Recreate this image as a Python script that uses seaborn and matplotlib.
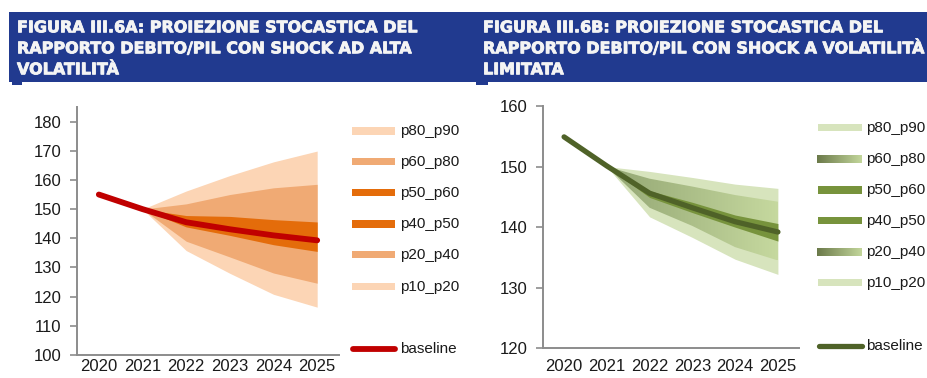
import numpy as np
import pandas as pd
import matplotlib
matplotlib.use("Agg")
import matplotlib.pyplot as plt
import matplotlib.patheffects as pe
import seaborn as sns
from matplotlib.colors import to_rgb
from matplotlib.patches import Rectangle

# ---- data -------------------------------------------------------------
years = ["2020", "2021", "2022", "2023", "2024", "2025"]
band_years = ["2021", "2022", "2023", "2024", "2025"]

# high-volatility shock
baseline_a = [155.0, 150.0, 145.5, 143.1, 141.0, 139.3]
p90_a = [150.0, 156.2, 161.5, 166.2, 169.9]
p80_a = [150.0, 151.8, 155.0, 157.3, 158.5]
p60_a = [150.0, 147.8, 147.5, 146.4, 145.6]
p50_a = [150.0, 145.5, 143.1, 141.0, 139.3]
p40_a = [150.0, 143.9, 141.0, 137.8, 135.5]
p20_a = [150.0, 139.0, 133.6, 128.1, 124.6]
p10_a = [150.0, 135.8, 128.0, 120.8, 116.4]

# limited-volatility shock
baseline_b = [154.9, 150.1, 145.6, 143.2, 140.9, 139.2]
p90_b = [150.0, 149.2, 148.2, 147.1, 146.4]
p80_b = [150.0, 148.0, 146.7, 145.3, 144.2]
p60_b = [150.0, 146.0, 144.1, 142.0, 140.6]
p50_b = [150.0, 145.6, 143.2, 140.9, 139.2]
p40_b = [150.0, 144.9, 142.4, 140.0, 137.7]
p20_b = [150.0, 143.2, 140.2, 136.7, 134.5]
p10_b = [150.0, 141.7, 138.3, 134.7, 132.2]

labels = ["p80_p90", "p60_p80", "p50_p60", "p40_p50", "p20_p40", "p10_p20"]

# ---- style ------------------------------------------------------------
sns.set_theme(style="white")
plt.rcParams["font.family"] = ["Liberation Sans", "DejaVu Sans"]

W, H = 928, 378
fig = plt.figure(figsize=(W / 100, H / 100), dpi=100)

BLUE = "#213A8F"
SPINE = "#8C8C8C"
TXT = "#1A1A1A"

ORANGE_LIGHT = "#FCD5B5"
ORANGE_MID = "#F0AA74"
ORANGE_DARK = "#E46C0A"
RED = "#C00000"

GREEN_LIGHT = "#D7E4BD"
GREEN_GRAD = ("#93A673", "#C6D99F")
GREEN_DARK = "#77933C"
OLIVE = "#4F6228"


def px_axes(x0, x1, y_top, y_bot):
    return fig.add_axes([x0 / W, 1 - y_bot / H, (x1 - x0) / W, (y_bot - y_top) / H])


def style_axes(ax, ylim, yticks, xpad):
    ax.set_xlim(-0.5, 5.5)
    ax.set_ylim(*ylim)
    ax.set_yticks(yticks)
    ax.set_xticks(range(len(years)))
    ax.set_xticklabels(years)
    ax.set_xticks(np.arange(-0.5, 6.0, 1.0), minor=True)
    ax.tick_params(axis="x", which="major", length=0, pad=xpad, labelsize=12, labelcolor=TXT)
    ax.tick_params(axis="x", which="minor", length=5, width=1.2, color=SPINE, direction="out")
    ax.tick_params(axis="y", length=5, width=1.2, color=SPINE, direction="out", pad=6,
                   labelsize=12, labelcolor=TXT, left=True)
    for s in ("top", "right"):
        ax.spines[s].set_visible(False)
    for s in ("left", "bottom"):
        ax.spines[s].set_color(SPINE)
        ax.spines[s].set_linewidth(1.4)
    ax.set_xlabel("")
    ax.set_ylabel("")
    ax.grid(False)


def gradient_fill(ax, xs, lo, hi, colors, zorder):
    poly = ax.fill_between(xs, lo, hi, facecolor="none", edgecolor="none", zorder=zorder)
    c0, c1 = np.array(to_rgb(colors[0])), np.array(to_rgb(colors[1]))
    t = np.linspace(0, 1, 256)[None, :, None]
    img = c0 + (c1 - c0) * t
    ymin, ymax = min(lo), max(hi)
    im = ax.imshow(img, extent=[xs[0], xs[-1], ymin, ymax], aspect="auto",
                   origin="lower", zorder=zorder, interpolation="bilinear")
    im.set_clip_path(poly.get_paths()[0], transform=ax.transData)


pos = np.arange(len(years))
bpos = pos[1:]

# ---- left chart -------------------------------------------------------
axA = px_axes(77, 339, 107, 355)
axA.fill_between(bpos, p10_a, p90_a, color=ORANGE_LIGHT, lw=0, zorder=1)
axA.fill_between(bpos, p20_a, p80_a, color=ORANGE_MID, lw=0, zorder=2)
axA.fill_between(bpos, p50_a, p60_a, color=ORANGE_DARK, lw=0, zorder=3)
axA.fill_between(bpos, p40_a, p50_a, color=ORANGE_DARK, lw=0, zorder=3)
dfA = pd.DataFrame({"pos": pos, "val": baseline_a})
sns.lineplot(data=dfA, x="pos", y="val", ax=axA, color=RED, lw=4.2,
             solid_capstyle="round", zorder=5)
style_axes(axA, (100, 185), range(100, 181, 10), xpad=3)

# ---- right chart ------------------------------------------------------
axB = px_axes(542.7, 799.3, 106, 348.3)
axB.fill_between(bpos, p10_b, p90_b, color=GREEN_LIGHT, lw=0, zorder=1)
gradient_fill(axB, bpos, p20_b, p80_b, GREEN_GRAD, zorder=2)
axB.fill_between(bpos, p50_b, p60_b, color=GREEN_DARK, lw=0, zorder=3)
axB.fill_between(bpos, p40_b, p50_b, color=GREEN_DARK, lw=0, zorder=3)
dfB = pd.DataFrame({"pos": pos, "val": baseline_b})
sns.lineplot(data=dfB, x="pos", y="val", ax=axB, color=OLIVE, lw=3.8,
             solid_capstyle="round", zorder=5)
style_axes(axB, (120, 160), range(120, 161, 10), xpad=8)

# ---- overlay: title bands and legends ---------------------------------
ov = fig.add_axes([0, 0, 1, 1], zorder=10)
ov.set_xlim(0, W)
ov.set_ylim(H, 0)
ov.axis("off")
ov.patch.set_alpha(0)

ov.add_patch(Rectangle((9, 12), W - 9, 70, color=BLUE, lw=0))
ov.add_patch(Rectangle((12, 82), 10, 3, color=BLUE, lw=0))
ov.add_patch(Rectangle((476, 82), 12, 3, color=BLUE, lw=0))

title_a = ["FIGURA III.6A: PROIEZIONE STOCASTICA DEL",
           "RAPPORTO DEBITO/PIL CON SHOCK AD ALTA",
           "VOLATILITÀ"]
title_b = ["FIGURA III.6B: PROIEZIONE STOCASTICA DEL",
           "RAPPORTO DEBITO/PIL CON SHOCK A VOLATILITÀ",
           "LIMITATA"]
title_kw = dict(color="#F4F4F4", fontsize=11.5, fontweight="bold", va="baseline", ha="left",
                family=["DejaVu Sans"],
                path_effects=[pe.withStroke(linewidth=0.6, foreground="#F4F4F4")])
for i, (la, lb) in enumerate(zip(title_a, title_b)):
    yb = 32.3 + 21 * i
    ov.text(17, yb, la, **title_kw)
    ov.text(483, yb, lb, **title_kw)

# left legend
leg_y_a = [131, 161.7, 192.7, 224, 254.7, 286.7]
cols_a = [ORANGE_LIGHT, ORANGE_MID, ORANGE_DARK, ORANGE_DARK, ORANGE_MID, ORANGE_LIGHT]
for y, c, lab in zip(leg_y_a, cols_a, labels):
    ov.add_patch(Rectangle((352, y - 3.7), 43.5, 7.4, color=c, lw=0))
    ov.text(400, y, lab, fontsize=11, color=TXT, va="center", ha="left")
ov.plot([353.5, 395.5], [348.7, 348.7], color=RED, lw=4.2, solid_capstyle="round")
ov.text(400, 348.7, "baseline", fontsize=11, color=TXT, va="center", ha="left")

# right legend
leg_y_b = [127.7, 159.3, 190, 220.7, 252, 282.7]
cols_b = [GREEN_LIGHT, None, GREEN_DARK, GREEN_DARK, None, GREEN_LIGHT]
for y, c, lab in zip(leg_y_b, cols_b, labels):
    if c is None:
        c0, c1 = np.array(to_rgb("#6B7A4A")), np.array(to_rgb("#C3D69B"))
        t = np.linspace(0, 1, 64)[None, :, None]
        ov.imshow(c0 + (c1 - c0) * t, extent=[817, 862, y + 3.7, y - 3.7],
                  aspect="auto", interpolation="bilinear")
    else:
        ov.add_patch(Rectangle((818, y - 3.7), 44, 7.4, color=c, lw=0))
    ov.text(866.5, y, lab, fontsize=11, color=TXT, va="center", ha="left")
ov.plot([819, 862], [346, 346], color=OLIVE, lw=3.8, solid_capstyle="round")
ov.text(866.5, 346, "baseline", fontsize=11, color=TXT, va="center", ha="left")
ov.set_xlim(0, W)
ov.set_ylim(H, 0)

fig.savefig("out.png", dpi=100)
